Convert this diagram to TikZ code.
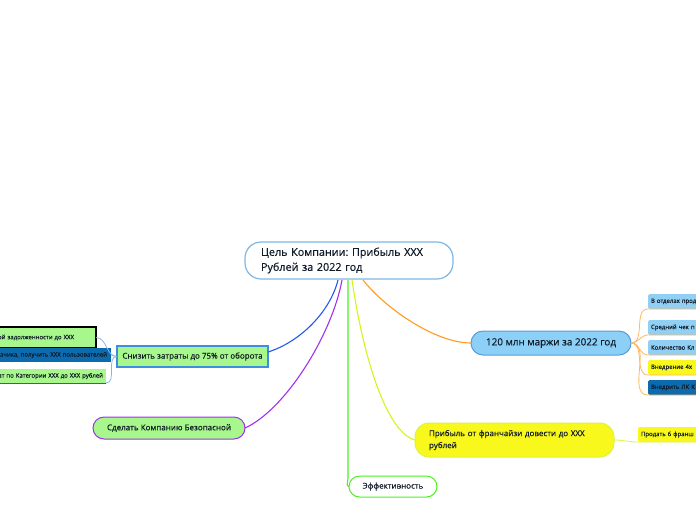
\documentclass[tikz,border=0pt]{standalone}
\usepackage{fontspec}
\setmainfont{Open Sans}[FakeBold=0.35]
\definecolor{txtc}{HTML}{111C28}
\definecolor{rootbd}{HTML}{7DB8E5}
\definecolor{lblue}{HTML}{8CD0F8}
\definecolor{bluebd}{HTML}{5B9BD5}
\definecolor{lblue2}{HTML}{92CFF5}
\definecolor{lgreen}{HTML}{A7F78C}
\definecolor{dblue}{HTML}{0C6AAE}
\definecolor{yel}{HTML}{F8F81C}
\definecolor{yelbd}{HTML}{D9F542}
\definecolor{cblue}{HTML}{2459EE}
\definecolor{cpurple}{HTML}{A030F0}
\definecolor{cgreen}{HTML}{4CF020}
\definecolor{cyel}{HTML}{D4F51C}
\definecolor{corange}{HTML}{FF9A22}
\definecolor{lorange}{HTML}{FFB860}
\definecolor{lbline}{HTML}{8AB4F0}
\definecolor{snzbd}{HTML}{3C8FE0}
\begin{document}
\frenchspacing
\begin{tikzpicture}[x=1pt,y=-1pt,
  base/.style={text=txtc, inner sep=0pt, outer sep=0pt},
  rootbox/.style={base, draw=rootbd, fill=white, line width=1.2pt, rounded corners=16pt, font=\fontsize{10.8}{15}\selectfont},
  bluepill/.style={base, draw=bluebd, fill=lblue, line width=1pt, rounded corners=12pt, font=\fontsize{9.9}{12}\selectfont},
  midtext/.style={base, font=\fontsize{8}{12}\selectfont},
  rchild/.style={base, text width=80pt, align=left, inner xsep=3pt, minimum height=15pt, rounded corners=1.5pt, anchor=north west, font=\fontsize{6}{7}\selectfont},
  lchild/.style={base, text width=150pt, align=right, anchor=north east, minimum height=14pt, font=\fontsize{6}{7}\selectfont},
  conn/.style={line width=1.1pt},
  thin/.style={line width=0.8pt}
]
\useasboundingbox (0,0) rectangle (696,520);

\coordinate (rb1) at (338,280);
\coordinate (rb2) at (342,280);
\coordinate (rb3) at (348,280);
\coordinate (rb4) at (352,280);
\coordinate (rb5) at (363,280);

% root
\node[rootbox, anchor=north west, text width=176pt, inner xsep=16pt, minimum height=37pt, align=left] (root) at (245,242) {Цель Компании: Прибыль XXX\\Рублей за 2022 год};

% main branches
\node[midtext, draw=snzbd, fill=lgreen, line width=1.2pt, minimum width=151pt, minimum height=21pt] (snz) at (192.5,356.5) {Снизить затраты до 75\% от оборота};
\node[midtext, draw=cpurple, fill=lgreen, line width=1pt, rounded corners=11pt, minimum width=152pt, minimum height=22pt] (sdl) at (169,428) {Сделать Компанию Безопасной};
\node[midtext, draw=cgreen, fill=white, line width=1pt, rounded corners=10.5pt, minimum width=88pt, minimum height=21pt] (eff) at (393,486.5) {Эффективность};
\node[midtext, draw=yelbd, fill=yel, line width=1pt, rounded corners=14pt, anchor=north west, text width=171pt, inner xsep=14pt, minimum height=34pt, align=left] (frn) at (415,423) {Прибыль от франчайзи довести до XXX\\рублей};
\node[bluepill, minimum width=160pt, minimum height=24pt] (m120) at (551,343) {120 млн маржи за 2022 год};

\draw[conn, cblue] (rb1) .. controls (330,312) and (300,342) .. (snz.east |- 0,352);
\draw[conn, cpurple] (rb2) .. controls (332,335) and (285,410) .. (sdl.east);
\draw[conn, cgreen] (rb3) -- (348,478) to[out=-90,in=180] (eff.west);
\draw[conn, cyel] (rb4) .. controls (362,350) and (385,432) .. (frn.west);
\draw[conn, corange] (rb5) .. controls (385,308) and (435,343) .. (m120.west);

% right children of 120
\node[rchild, fill=lblue2] (r1) at (648,294) {В отделах прод};
\node[rchild, fill=lblue2] (r2) at (648,320) {Средний чек п};
\node[rchild, fill=lblue2] (r3) at (648,340) {Количество Кл};
\node[rchild, fill=yel] (r4) at (648,360) {Внедрение 4х};
\node[rchild, fill=dblue] (r5) at (648,380) {Внедрить ЛК К};
\foreach \r in {r1,r2,r3,r4,r5}{
  \draw[thin, lorange] (m120.east) to[out=0,in=180] (\r.south west) -- (\r.south east);
}

% franchise child
\node[rchild, fill=yel] (p1) at (638,427) {Продать 6 франш};
\draw[thin, yelbd] (frn.east) to[out=0,in=180] (p1.south west) -- (p1.south east);

% left children of snz
\node[lchild, fill=lgreen, draw=black, line width=1.3pt, inner xsep=22pt, minimum height=21pt] (l1) at (96,327) {ой задолженности до XXX};
\node[lchild, fill=dblue, inner xsep=4pt] (l2) at (111,348) {ачика, получить XXX пользователей};
\node[lchild, fill=lgreen, inner xsep=3pt] (l3) at (106,369) {ат по Категории XXX до XXX рублей};
\draw[thin, lbline] (snz.west) to[out=180,in=0] (l1.east);
\draw[thin, lbline] (snz.west) to[out=180,in=0] (l2.east);
\draw[thin, lbline] (snz.west) to[out=180,in=0] (l3.south east);
\draw[thin, cblue] (l3.south east) -- (l3.south west);
\end{tikzpicture}
\end{document}
